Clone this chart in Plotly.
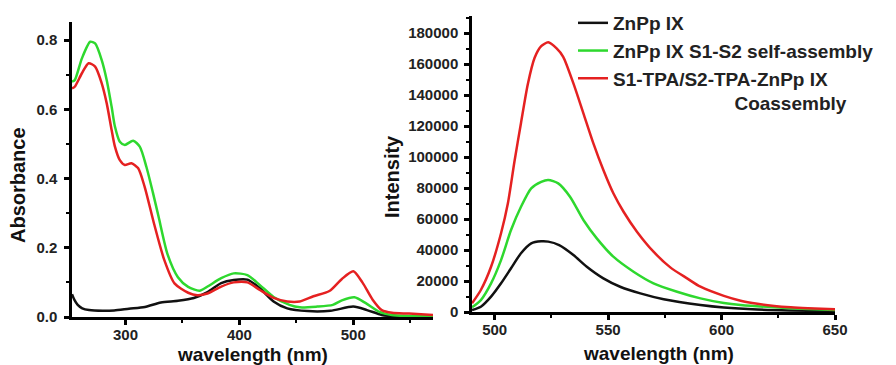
import plotly.graph_objects as go

# ---------------- Absorbance (left) ----------------
abs_wl_black = [253, 255, 258, 262, 268, 280, 290, 303, 317, 331, 346, 360, 372, 384, 395, 407, 418, 430, 442, 460, 480, 500, 512, 525, 535, 550, 570]
abs_black = [0.066, 0.05, 0.035, 0.025, 0.02, 0.018, 0.019, 0.024, 0.029, 0.042, 0.047, 0.055, 0.072, 0.098, 0.107, 0.108, 0.083, 0.045, 0.025, 0.017, 0.018, 0.03, 0.02, 0.006, 0.002, 0.0, 0.0]

abs_wl_green = [253, 255.4, 261.7, 269, 273.3, 279.1, 283.5, 287.8, 290.7, 295, 299.4, 306.7, 312.5, 318.3, 324, 329, 337, 346, 355, 365, 372, 384, 395, 407, 418, 430, 444, 453, 468, 482, 490, 501, 511, 523, 534, 550, 570]
abs_green = [0.68, 0.684, 0.747, 0.795, 0.79, 0.742, 0.684, 0.607, 0.55, 0.506, 0.497, 0.509, 0.492, 0.434, 0.36, 0.29, 0.18, 0.115, 0.087, 0.076, 0.088, 0.112, 0.126, 0.121, 0.092, 0.058, 0.035, 0.028, 0.03, 0.035, 0.048, 0.057, 0.04, 0.015, 0.006, 0.003, 0.002]

abs_wl_red = [253, 255.4, 261.7, 267.6, 273.3, 279.1, 283.5, 287.8, 290.7, 295, 299.4, 305.2, 311, 316.8, 325, 334, 343, 355, 363, 372, 384, 395, 407, 418, 430, 442, 453, 465, 479, 490, 500, 508, 517, 525, 534, 549, 570]
abs_red = [0.66, 0.665, 0.704, 0.733, 0.723, 0.675, 0.617, 0.54, 0.492, 0.453, 0.439, 0.444, 0.43, 0.376, 0.27, 0.165, 0.097, 0.07, 0.063, 0.068, 0.088, 0.1, 0.1, 0.078, 0.055, 0.045, 0.045, 0.06, 0.075, 0.11, 0.132, 0.1, 0.05, 0.02, 0.012, 0.01, 0.006]

# ---------------- Fluorescence (right) ----------------
fl_wl_black = [490, 493.9, 498.4, 502.8, 507.2, 511.6, 516.1, 520.5, 523.6, 528.4, 534.7, 540.6, 547.9, 555.3, 564.2, 574.5, 590.7, 601, 615.8, 630, 650]
fl_black = [1300, 3400, 9900, 18500, 28200, 37900, 44300, 45600, 45400, 43200, 36800, 29200, 21700, 16300, 12000, 8200, 4500, 2900, 1600, 1000, 500]

fl_wl_green = [490, 493.9, 498.4, 502.8, 507.2, 511.6, 516.1, 520.5, 523.6, 528, 533.2, 539.1, 545, 552.3, 561.2, 570, 580.4, 590.7, 601, 608.4, 623.2, 638, 650]
fl_green = [3000, 7700, 18500, 33500, 52900, 67900, 79800, 84000, 85200, 83000, 74400, 59400, 47500, 35700, 26000, 18500, 13100, 8800, 5800, 4500, 3000, 2000, 1300]

fl_wl_red = [490, 493.9, 498.4, 502.8, 505.8, 508.7, 511.6, 514.6, 517.6, 520.5, 523.6, 527.3, 530.2, 534.7, 539.1, 543.5, 547.9, 552.3, 556.8, 562.7, 570, 577.4, 584.8, 590.7, 601, 608.4, 615.8, 623.2, 630.5, 638, 650]
fl_red = [5600, 14200, 29200, 50800, 70000, 97000, 122000, 147000, 164000, 171500, 174000, 170100, 164700, 147500, 128200, 108800, 91600, 76600, 64700, 51800, 38900, 28800, 21700, 16300, 10400, 7300, 5300, 3900, 3000, 2400, 1700]

names = ["ZnPp IX", "ZnPp IX S1-S2 self-assembly",
         "S1-TPA/S2-TPA-ZnPp IX<br>" + "\u00a0" * 23 + "Coassembly"]
colors = ["#111111", "#2ed82e", "#e52121"]

FONT = "Liberation Sans, Arial, sans-serif"
fig = go.Figure()

for wl, ys, c in [(abs_wl_black, abs_black, colors[0]), (abs_wl_green, abs_green, colors[1]), (abs_wl_red, abs_red, colors[2])]:
    fig.add_trace(go.Scatter(x=wl, y=ys, mode="lines", line=dict(color=c, width=2.5, shape="spline", smoothing=0.7),
                             showlegend=False, xaxis="x", yaxis="y"))

for wl, ys, c, n in [(fl_wl_black, fl_black, colors[0], names[0]), (fl_wl_green, fl_green, colors[1], names[1]), (fl_wl_red, fl_red, colors[2], names[2])]:
    fig.add_trace(go.Scatter(x=wl, y=ys, mode="lines", name=n, line=dict(color=c, width=2.5, shape="spline", smoothing=0.7),
                             showlegend=True, xaxis="x2", yaxis="y2"))

tickfont = dict(family=FONT, size=15, color="#222", weight="bold")
common = dict(showline=True, linecolor="black", linewidth=2.5, ticks="outside", ticklen=5, tickwidth=2.5,
              tickcolor="black", showgrid=False, zeroline=False, tickfont=tickfont, automargin=False)
mn = dict(ticks="outside", ticklen=3, tickwidth=2, tickcolor="black")

fig.update_layout(
    width=896, height=365, margin=dict(l=0, r=0, t=0, b=0, autoexpand=False),
    paper_bgcolor="white", plot_bgcolor="white",
    xaxis=dict(domain=[72/896, 433/896], range=[253, 570], tickvals=[300, 400, 500],
               minor=dict(tickvals=[350, 450, 550], **mn), anchor="y", ticklabelstandoff=-3, **common),
    yaxis=dict(domain=[48/365, 343/365], range=[0, 0.852], tickvals=[0, 0.2, 0.4, 0.6, 0.8], tickformat=".1f",
               minor=dict(tickvals=[0.1, 0.3, 0.5, 0.7], **mn), anchor="x", ticklabelstandoff=4, **common),
    xaxis2=dict(domain=[472/896, 835/896], range=[490, 650], tickvals=[500, 550, 600, 650],
                minor=dict(tickvals=[525, 575, 625], **mn), anchor="y2", ticklabelstandoff=-3, **common),
    yaxis2=dict(domain=[53/365, 349/365], range=[0, 191000], tickvals=list(range(0, 180001, 20000)), tickformat="d",
                minor=dict(tickvals=list(range(10000, 190001, 20000)), **mn), anchor="x2", ticklabelstandoff=3, **common),
    legend=dict(x=573/896, y=1 - 4/365, xref="container", yref="container", xanchor="left", yanchor="top", valign="top",
                bgcolor="rgba(0,0,0,0)", font=dict(family=FONT, size=19, color="#222", weight="bold"),
                tracegroupgap=0, itemwidth=30),
)

title_font = dict(family=FONT, size=19, color="#111", weight="bold")
fig.add_annotation(text="Absorbance", xref="paper", yref="paper", x=18/896, y=1 - 185/365, textangle=-90,
                   showarrow=False, font=dict(family=FONT, size=20, color="#111", weight="bold"), xanchor="center", yanchor="middle")
fig.add_annotation(text="Intensity", xref="paper", yref="paper", x=392/896, y=1 - 177/365, textangle=-90,
                   showarrow=False, font=dict(family=FONT, size=20, color="#111", weight="bold"), xanchor="center", yanchor="middle")
fig.add_annotation(text="wavelength (nm)", xref="paper", yref="paper", x=252/896, y=1 - 354/365,
                   showarrow=False, font=title_font, xanchor="center", yanchor="middle")
fig.add_annotation(text="wavelength (nm)", xref="paper", yref="paper", x=658/896, y=1 - 353/365,
                   showarrow=False, font=title_font, xanchor="center", yanchor="middle")

fig.write_html("out.html", config={"displayModeBar": False}, post_script="document.body.style.margin='0';")
